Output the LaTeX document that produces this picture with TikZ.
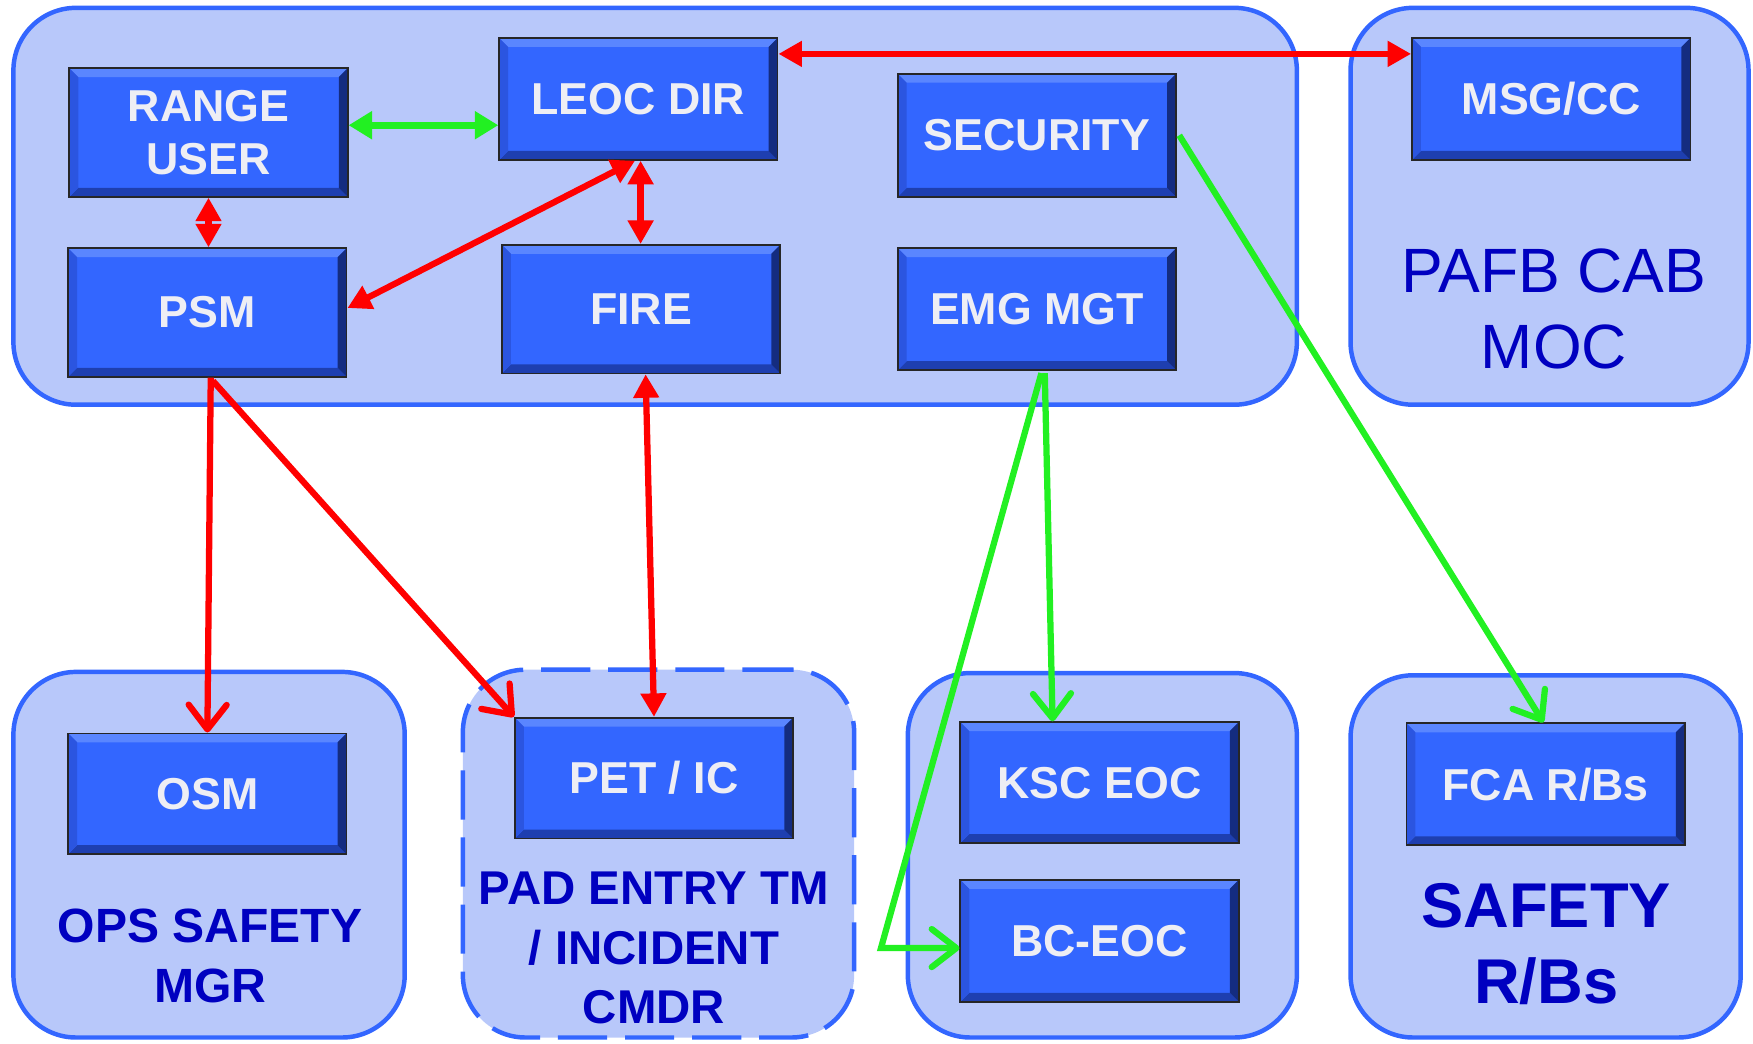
\documentclass[tikz,border=0pt]{standalone}
\usepackage{fontspec}
\setmainfont{Liberation Sans}
\usetikzlibrary{arrows.meta,calc}
\definecolor{contfill}{HTML}{B8C8FA}
\definecolor{contline}{HTML}{3366FF}
\definecolor{boxface}{HTML}{3366FF}
\definecolor{bvtop}{HTML}{5A86FF}
\definecolor{bvleft}{HTML}{2B55E0}
\definecolor{bvright}{HTML}{142C80}
\definecolor{bvbot}{HTML}{1E3FB0}
\definecolor{lblue}{HTML}{0000C0}
\definecolor{arred}{HTML}{FF0000}
\definecolor{argreen}{HTML}{22F022}
\definecolor{boxtext}{HTML}{EEEEF4}
\newcommand{\bvw}{4pt}
\begin{document}
\begin{tikzpicture}[x=0.5pt,y=-0.5pt,
  cont/.style={draw=contline, line width=2pt, fill=contfill, rounded corners=28pt, inner sep=0pt},
  dashcont/.style={cont, dash pattern=on 22pt off 8pt},
  bx/.style={draw=black!85, line width=0.8pt, fill=boxface, minimum width=124.5pt,
    minimum height=55pt, text=boxtext, align=center, inner sep=0pt,
    font=\bfseries\fontsize{20}{24}\selectfont,
    path picture={
      \fill[bvtop] (path picture bounding box.north west) -- (path picture bounding box.north east)
        -- ([shift={(-\bvw,-\bvw)}]path picture bounding box.north east)
        -- ([shift={(\bvw,-\bvw)}]path picture bounding box.north west) -- cycle;
      \fill[bvbot] (path picture bounding box.south west) -- (path picture bounding box.south east)
        -- ([shift={(-\bvw,\bvw)}]path picture bounding box.south east)
        -- ([shift={(\bvw,\bvw)}]path picture bounding box.south west) -- cycle;
      \fill[bvleft] (path picture bounding box.north west) -- (path picture bounding box.south west)
        -- ([shift={(\bvw,\bvw)}]path picture bounding box.south west)
        -- ([shift={(\bvw,-\bvw)}]path picture bounding box.north west) -- cycle;
      \fill[bvright] (path picture bounding box.north east) -- (path picture bounding box.south east)
        -- ([shift={(-\bvw,\bvw)}]path picture bounding box.south east)
        -- ([shift={(-\bvw,-\bvw)}]path picture bounding box.north east) -- cycle;
    }},
  lbl/.style={text=lblue, align=center, inner sep=0pt},
  redboth/.style={draw=arred, line width=2.8pt, {Triangle[length=10.5pt,width=11pt]}-{Triangle[length=10.5pt,width=11pt]}},
  redbarb/.style={draw=arred, line width=2.8pt, -{Straight Barb[length=11pt,width=17pt,round]}},
  greenboth/.style={draw=argreen, line width=3pt, {Triangle[length=10.5pt,width=12pt]}-{Triangle[length=10.5pt,width=12pt]}},
  greenbarb/.style={draw=argreen, line width=2.8pt, -{Straight Barb[length=11pt,width=17pt,round]}}
]
\useasboundingbox (0,0) rectangle (1568,933);

% containers
\node[cont, minimum width=574pt, minimum height=177.5pt] (topc) at (586,184.5) {};
\node[cont, minimum width=178pt, minimum height=177.5pt] (pafbc) at (1386,184.5) {};
\node[cont, minimum width=175pt, minimum height=163.5pt] (opsc) at (187,764.5) {};
\node[dashcont, minimum width=175pt, minimum height=164.5pt] (padc) at (589,763.5) {};
\node[cont, minimum width=174pt, minimum height=163pt] (kscc) at (986,765) {};
\node[cont, minimum width=174.5pt, minimum height=162pt] (safc) at (1382.5,766) {};

% container labels
\node[lbl, font=\fontsize{28}{34}\selectfont] (pafblbl) at (1390,276) {PAFB CAB\\MOC};
\node[lbl, font=\bfseries\fontsize{21.5}{27}\selectfont] (opslbl) at (188,855) {OPS SAFETY\\MGR};
\node[lbl, font=\bfseries\fontsize{21.2}{26.5}\selectfont] (padlbl) at (585,848) {PAD ENTRY TM\\/ INCIDENT\\CMDR};
\node[lbl, font=\bfseries\fontsize{28.3}{34}\selectfont] (saflbl) at (1383,844) {SAFETY\\R/Bs};

% boxes
\node[bx, minimum height=57.5pt] (range) at (186.5,118.5) {RANGE\\USER};
\node[bx, minimum height=54.5pt] (leoc) at (571,88.5) {LEOC DIR};
\node[bx] (secu) at (927.5,121) {SECURITY};
\node[bx, minimum height=54.5pt] (msg) at (1387.5,88.5) {MSG/CC};
\node[bx, minimum height=57.5pt] (psm) at (185.5,279.5) {PSM};
\node[bx, minimum height=57.5pt] (fire) at (573.5,276.5) {FIRE};
\node[bx, minimum height=54.5pt] (emg) at (927.5,276.5) {EMG MGT};
\node[bx, minimum height=54pt] (osm) at (185.5,710) {OSM};
\node[bx, minimum height=54pt] (pet) at (585,696) {PET / IC};
\node[bx, minimum height=54pt] (ksc) at (983.5,700) {KSC EOC};
\node[bx, minimum height=54.5pt] (bc) at (983.5,841.5) {BC-EOC};
\node[bx, minimum height=54.5pt] (fca) at (1382.5,701.5) {FCA R/Bs};

% connectors
\draw[greenboth] (range.east |- 0,112) -- (leoc.west |- 0,112);
\draw[redboth] ($(leoc.north east)+(0,15)$) -- ($(msg.north west)+(0,15)$);
\draw[redboth] (range.south) -- (range.south |- psm.north);
\draw[redboth] ($(leoc.south)+(-3,0)$) -- ($(psm.east)+(0,-4)$);
\draw[redboth] ($(leoc.south)+(2,0)$) -- ($(leoc.south |- fire.north)+(2,0)$);
\draw[redbarb] ($(psm.south)+(3,0)$) -- (osm.north);
\draw[redbarb] ($(psm.south)+(5,3)$) -- (pet.north west);
\draw[redboth] ($(fire.south)+(4,0)$) -- (pet.north);
\draw[greenbarb] ($(secu.east)+(2,0)$) -- ($(fca.north)+(-2,0)$);
\draw[greenbarb] ($(emg.south)+(7,2)$) -- ($(ksc.north)+(-42,0)$);
\coordinate (bend) at (788,848);
\draw[greenbarb] ($(emg.south)+(4,2)$) -- (bend) -- (bend -| bc.west);
\end{tikzpicture}
\end{document}
